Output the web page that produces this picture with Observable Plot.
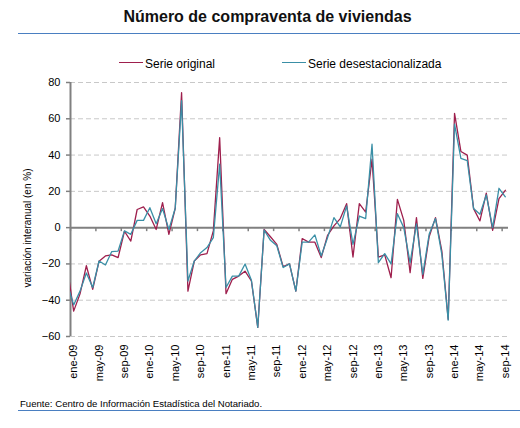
<!DOCTYPE html>
<html><head><meta charset="utf-8">
<script src="https://cdn.jsdelivr.net/npm/d3@7"></script>
<script src="https://cdn.jsdelivr.net/npm/@observablehq/plot@0.6"></script>
<style>
body{margin:0;background:#fff;font-family:"Liberation Sans",Arial,sans-serif;}
#wrap{position:relative;width:520px;height:428px;overflow:hidden;background:#fff;}
.abs{position:absolute;line-height:1;white-space:nowrap;color:#000;}
#chart{position:absolute;left:0;top:70px;}
#ytitle{position:absolute;left:28px;top:227.5px;font-size:10px;line-height:1;white-space:nowrap;color:#000;transform:translate(-50%,-50%) rotate(-90deg);}
</style></head><body><div id="wrap">
<div class="abs" id="title" style="left:0;width:535px;text-align:center;top:8.5px;font-size:16px;font-weight:bold;color:#111;"></div>
<div class="abs" style="left:18px;right:0;top:33px;height:0;border-top:1.5px solid #4a7fc1;"></div>
<div id="legend"></div>
<div id="chart"></div>
<div id="ytitle"></div>
<div class="abs" id="footer" style="left:20px;top:399px;font-size:9.6px;"></div>
<div class="abs" style="left:18px;right:0;top:409.5px;height:0;border-top:1.5px solid #4a7fc1;"></div>
</div>
<script>
const titleText = "Número de compraventa de viviendas";
const footerText = "Fuente: Centro de Información Estadística del Notariado.";
const yTitle = "variación interanual (en %)";
const seriesNames = ["Serie original", "Serie desestacionalizada"];
const seriesColors = ["#9e1f4d", "#3a8fa6"];

// Months: dic-08 (partially visible at the left edge) to sep-14
const monthAbbr = ["ene","feb","mar","abr","may","jun","jul","ago","sep","oct","nov","dic"];
const firstYear = 2009;
// x tick label positions (month index from ene-09) every 4 months
const xTickIdx = [0,4,8,12,16,20,24,28,32,36,40,44,48,52,56,60,64,68];
const yTicks = [-60,-40,-20,0,20,40,60,80];

// value for dic-08 (index -1), then ene-09 ... sep-14
const serieOriginal = [-22,
  -46,-36.5,-21,-34,-18.5,-15.6,-15,-16.5,-2,-7.4,10,11.4,
  6.4,-1,13.8,-3.7,10.7,74.4,-35,-18.4,-15,-14.3,-1.8,49.6,
  -36.4,-28.5,-26.7,-24,-29.4,-55,-1,-5,-9.2,-21.5,-20,-35,
  -6,-8,-8,-16.5,-4.2,1,5,13.2,-16.2,13.2,8.6,37.7,
  -16.2,-15,-27.6,15.6,4,-24.8,5.5,-28,-5,5.5,-12.9,-50.5,
  63,42,40,10.5,3.7,19,-1.5,16,20.6];
const serieDesest = [-31,
  -42.6,-35,-25,-33,-18.4,-20.6,-13.2,-12.9,-1.8,-3.7,4,4,
  11,2.2,10.5,-1,10.7,70,-29.4,-18.4,-13.8,-11,-5.5,35,
  -33,-26.7,-26.7,-20,-29,-55,-1.3,-7,-10,-22,-20,-35,
  -8,-8,-4,-15.6,-5.5,5.5,0.4,12,-9.2,6.4,5,46,
  -19.3,-14.3,-20,7.7,0,-19.3,2,-25.7,-3.7,5,-14.7,-51,
  57,38.2,37,10.5,7.4,18,0,21.7,17];

const monthLabel = i => monthAbbr[((i % 12) + 12) % 12] + "-" + String((firstYear + Math.floor(i / 12)) % 100).padStart(2, "0");
const toRows = arr => arr.map((v, k) => ({i: k - 1, v}));
const rowsO = toRows(serieOriginal);
const rowsD = toRows(serieDesest);
const lastIdx = serieOriginal.length - 2;
const boundaries = d3.range(-0.5, lastIdx, 4);

document.getElementById("title").textContent = titleText;
document.getElementById("footer").textContent = footerText;
document.getElementById("ytitle").textContent = yTitle;
const leg = document.getElementById("legend");
const legPos = [119, 282];
seriesNames.forEach((n, k) => {
  const line = document.createElement("div");
  line.className = "abs";
  line.style.cssText = `left:${legPos[k]}px;top:62px;width:24px;height:0;border-top:1.5px solid ${seriesColors[k]};`;
  const t = document.createElement("div");
  t.className = "abs";
  t.style.cssText = `left:${legPos[k] + 26}px;top:57.8px;font-size:12px;`;
  t.textContent = n;
  leg.appendChild(line); leg.appendChild(t);
});

const chart = Plot.plot({
  width: 520, height: 320,
  marginTop: 12, marginBottom: 54, marginLeft: 70, marginRight: 12,
  style: {fontFamily: "'Liberation Sans', Arial, sans-serif", fontSize: "11px", color: "#000", background: "transparent", overflow: "visible"},
  x: {type: "linear", domain: [-0.5, lastIdx + 0.5]},
  y: {domain: [-60, 80]},
  marks: [
    Plot.gridY(yTicks, {stroke: "#c8c8c8", strokeOpacity: 1, strokeDasharray: "5,3", strokeWidth: 1}),
    Plot.axisY(yTicks, {tickSize: 4, tickPadding: 6, label: null, stroke: "#808080", strokeWidth: 1.5, fill: "#000", fontSize: 11}),
    Plot.axisX(xTickIdx, {anchor: "bottom", tickSize: 0, tickPadding: 8, tickRotate: -90, tickFormat: monthLabel, label: null, fill: "#000", fontSize: 11}),
    Plot.ruleX([-0.5], {stroke: "#808080", strokeWidth: 2}),
    Plot.ruleY([0], {stroke: "#808080", strokeWidth: 2}),
    Plot.ruleX(boundaries, {x: d => d, y1: 0, y2: -2.2, stroke: "#808080", strokeWidth: 1.5}),
    Plot.line(rowsO, {x: "i", y: "v", stroke: seriesColors[0], strokeWidth: 1.3, clip: true}),
    Plot.line(rowsD, {x: "i", y: "v", stroke: seriesColors[1], strokeWidth: 1.3, clip: true})
  ]
});
document.getElementById("chart").appendChild(chart);
</script></body></html>
